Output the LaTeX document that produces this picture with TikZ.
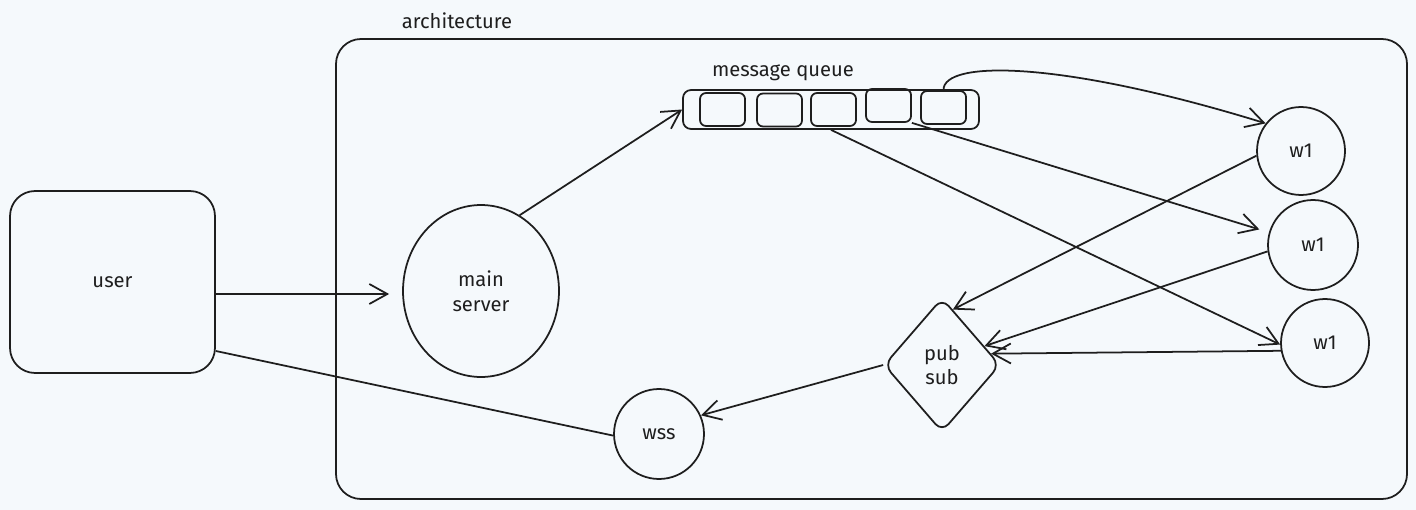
\documentclass[tikz,border=0pt]{standalone}
\usepackage{fontspec}
\setmainfont{Fira Sans}
\usetikzlibrary{arrows.meta,shapes.geometric}
\definecolor{ink}{HTML}{1E1E1E}
\definecolor{paper}{HTML}{F5F9FC}

\begin{document}
\begin{tikzpicture}[x=0.02cm, y=-0.02cm, line width=1pt, color=ink,
  every node/.style={font=\fontsize{11.5}{14}\selectfont, align=center},
  box/.style={draw, rectangle, rounded corners=0.5cm},
  slot/.style={draw, rectangle, rounded corners=0.12cm, minimum width=0.9cm, minimum height=0.66cm, inner sep=0pt},
  bubble/.style={draw, circle, inner sep=0pt},
  link/.style={-{Straight Barb[length=3.6mm, width=4mm]}}]
% Canvas
\fill[paper] (0,0) rectangle (1416,510);

% Frame of the system
\draw[rounded corners=0.5cm] (336,39) rectangle (1407,499);
\node (archlbl) at (457,21) {architecture};

% Client side
\node[box, minimum width=4.1cm, minimum height=3.64cm] (user) at (112.5,282) {user};

% Inside the frame
\node[draw, ellipse, minimum width=3.12cm, minimum height=3.44cm, inner sep=0pt] (mainsrv) at (481,291) {main\\server};
\node[draw, rectangle, rounded corners=0.16cm, minimum width=5.92cm, minimum height=0.78cm] (mq) at (831,109.5) {};
\node (mqlbl) at (783,73) {message queue};
\node[slot] (q1) at (722.5,109.5) {};
\node[slot] (q2) at (779.5,110) {};
\node[slot] (q3) at (833.5,109.5) {};
\node[slot] (q4) at (888.5,105.5) {};
\node[slot] (q5) at (943.5,107.5) {};
\node[bubble, minimum size=1.76cm] (w1a) at (1301,151) {w1};
\node[bubble, minimum size=1.8cm] (w1b) at (1313,245) {w1};
\node[bubble, minimum size=1.76cm] (w1c) at (1325,343) {w1};
\node[draw, diamond, rounded corners=0.2cm, minimum width=2.32cm, minimum height=2.68cm, inner sep=0pt] (pubsub) at (942,365) {pub\\sub};
\node[bubble, minimum size=1.8cm] (wss) at (659,434) {wss};

% Connectors
\draw[link] ([yshift=-0.24cm]user.east) -- ([xshift=-0.26cm]mainsrv.west |- 0,294);
\draw[link] (mainsrv.63) -- (mq.west);
\draw[link] (q5.north) .. controls (943,60) and (1060,60) .. (w1a.142);
\draw[link, shorten >=0.2cm] (q4.south east) -- (w1b.164);
\draw[link] (mq.south) -- (w1c.182);
\draw[link] (w1a.186) -- (pubsub.79);
\draw[link] (w1b.188) -- (pubsub.24);
\draw[link] (w1c.190) -- (pubsub.13);
\draw[link] (pubsub.180) -- (wss.24);
\draw (wss.182) -- (user.south east |- 0,351);
\end{tikzpicture}
\end{document}
